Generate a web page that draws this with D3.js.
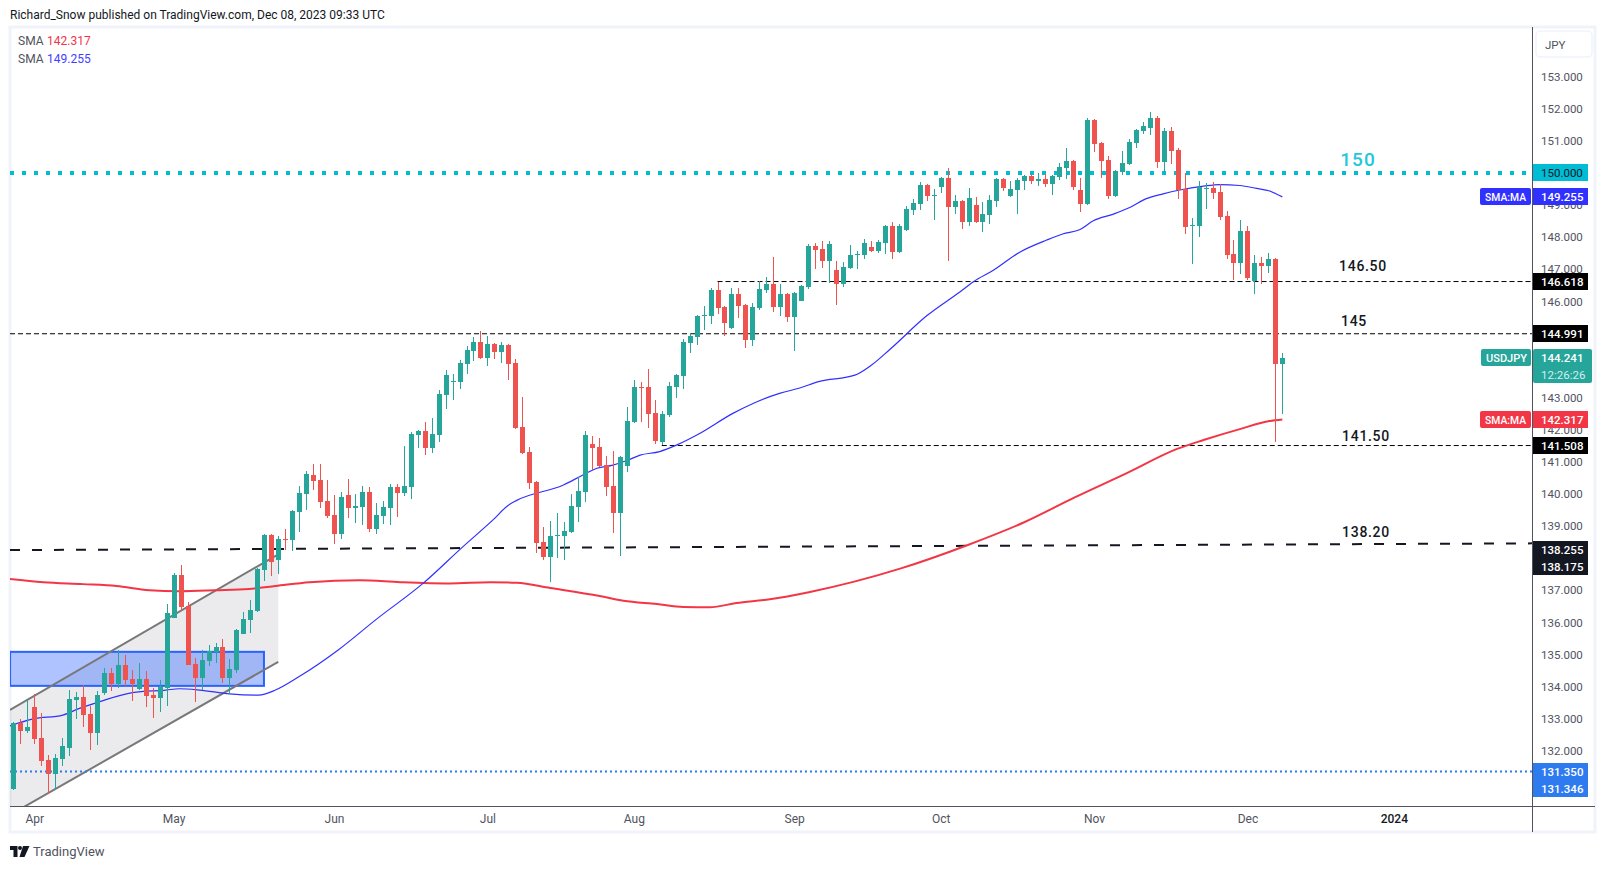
<!DOCTYPE html>
<html>
<head>
<meta charset="utf-8">
<script src="https://cdn.jsdelivr.net/npm/d3@7"></script>
<style>
  body { margin: 0; background: #fff; }
  text { font-family: Roboto, sans-serif; }
</style>
</head>
<body>
<div id="vis"></div>
<script>
const FRAME_WIDTH = 1606;
const FRAME_HEIGHT = 869;
const PANE = {left: 10, right: 1532, top: 27, bottom: 806};

// daily candles
const opens = [130.82,132.87,132.61,133.36,132.39,131.71,131.27,131.74,132.08,133.58,133.67,133.14,132.55,133.80,134.42,134.08,134.67,134.23,133.92,134.23,133.73,133.64,133.95,136.13,137.47,136.51,134.70,134.26,134.79,135.07,135.23,134.26,134.51,135.63,136.07,136.35,137.63,138.72,137.94,138.59,
  138.56,139.43,140.00,140.59,140.43,139.78,139.34,138.75,139.96,139.56,139.59,140.06,138.90,139.31,139.56,140.21,140.03,140.21,141.83,141.96,141.43,141.83,143.08,143.50,143.49,144.05,144.45,144.73,144.23,144.67,144.42,144.64,144.08,142.08,141.30,140.37,138.50,138.04,138.70,138.69,
  138.81,139.59,140.06,141.55,141.46,140.90,140.25,139.41,140.87,142.24,143.33,143.33,142.52,141.62,142.46,143.33,143.68,144.70,144.89,145.55,145.54,146.35,145.82,145.17,146.23,145.89,144.80,145.79,146.35,146.54,145.82,146.23,145.51,146.02,146.45,147.73,147.63,147.26,146.98,146.54,
  147.04,147.46,147.44,147.69,147.57,147.82,148.35,147.54,148.22,148.85,149.03,149.63,149.29,149.56,149.84,148.94,149.13,148.47,149.00,148.47,148.69,149.13,149.81,149.28,149.47,149.75,149.91,149.76,149.81,149.66,149.88,150.16,150.37,149.47,149.03,151.65,150.93,150.40,149.28,150.03,
  150.28,150.93,151.31,151.40,151.71,150.34,151.31,150.71,149.50,148.35,148.35,149.51,149.53,149.41,148.66,147.47,147.19,148.19,146.63,147.19,147.10,147.32,144.05];
const highs = [132.88,132.99,133.58,133.76,133.17,131.86,131.90,132.39,133.89,133.83,134.05,133.39,133.86,134.58,134.58,135.14,134.98,134.51,134.73,134.48,133.95,134.20,136.57,137.54,137.78,136.63,134.89,135.14,135.29,135.35,135.48,134.86,135.78,136.32,136.69,137.68,138.75,138.74,138.69,138.91,
  139.49,140.24,140.71,140.93,140.93,140.43,139.96,140.06,140.46,140.00,140.24,140.21,139.72,139.78,140.31,140.31,141.49,141.93,141.99,142.24,142.36,143.24,143.86,143.73,144.17,144.61,144.89,145.07,144.92,144.70,144.73,144.66,144.20,143.02,141.46,140.39,138.97,139.16,139.41,139.13,
  140.00,140.53,141.96,141.80,141.74,141.18,141.34,141.18,142.71,143.55,143.49,143.89,142.93,142.58,143.49,143.74,144.83,145.02,145.57,145.85,146.42,146.60,145.85,146.42,146.42,145.91,145.95,146.64,146.76,147.38,146.54,146.25,146.29,146.50,147.79,147.82,147.88,147.88,147.26,147.23,
  147.76,147.57,147.94,147.88,147.91,148.37,148.47,148.41,148.97,149.19,149.72,149.65,149.50,149.87,150.16,149.31,149.15,149.53,149.25,149.09,149.31,149.83,149.83,149.75,149.84,149.94,149.97,150.00,149.97,149.94,150.31,150.78,150.40,149.84,151.71,151.68,150.97,150.53,150.08,150.69,
  151.06,151.37,151.59,151.90,151.78,151.40,151.43,150.78,150.00,148.60,149.75,149.69,149.72,149.66,148.82,147.91,148.53,148.35,147.44,147.38,147.51,147.34,144.39];
const lows = [130.77,132.21,132.54,132.21,131.52,130.65,130.77,131.52,131.83,132.99,132.74,132.02,132.18,133.73,133.86,133.95,134.01,133.55,133.89,133.36,133.02,133.20,133.39,136.13,136.35,134.67,133.52,133.89,134.64,134.73,134.11,133.77,134.42,135.63,135.67,136.32,137.29,137.44,137.50,138.25,
  138.22,138.81,139.50,140.12,139.56,139.25,138.44,138.59,139.25,139.09,139.03,138.81,138.75,139.06,139.03,139.28,139.93,139.84,141.43,141.21,141.27,141.62,142.64,142.92,143.27,143.73,144.14,144.20,143.98,144.20,144.08,143.55,142.03,141.25,140.15,138.16,137.94,137.27,138.00,137.94,
  138.78,139.13,139.75,140.75,140.85,139.94,138.78,138.07,140.69,142.21,142.24,142.05,141.55,141.52,142.40,142.99,143.27,144.39,144.64,145.11,145.30,145.61,144.92,145.14,145.48,144.55,144.61,145.73,146.26,145.67,145.54,145.36,144.45,146.00,146.39,147.01,147.04,146.57,145.89,146.45,
  147.01,147.01,147.32,147.55,147.51,147.48,147.32,147.51,148.20,148.69,148.85,149.13,148.53,149.38,147.26,148.72,148.26,148.35,148.44,148.16,148.41,148.94,149.44,149.26,148.72,149.47,149.66,149.59,149.56,149.31,149.78,149.81,149.47,148.78,149.00,150.65,149.84,149.19,149.26,149.94,
  150.26,150.78,151.21,151.18,150.16,150.03,150.28,149.19,148.10,147.16,148.00,148.88,149.19,148.53,147.32,146.67,146.85,146.67,146.23,146.54,146.88,141.62,142.49];
const closes = [132.85,132.61,132.74,132.36,131.68,131.27,131.77,132.15,133.61,133.67,133.11,132.55,133.73,134.42,134.08,134.67,134.20,134.08,134.23,133.70,133.64,133.98,136.29,137.47,136.48,134.67,134.26,134.82,135.11,135.23,134.26,134.54,135.76,136.10,136.38,137.66,138.72,137.88,138.59,138.56,
  139.47,140.03,140.62,140.40,139.75,139.31,138.75,139.90,139.56,139.62,140.06,138.90,139.34,139.59,140.21,140.03,140.24,141.86,141.96,141.43,141.86,143.11,143.70,143.52,144.08,144.48,144.73,144.23,144.67,144.42,144.64,144.05,142.05,141.27,140.34,138.47,138.03,138.69,138.72,138.85,
  139.62,140.09,141.84,141.43,140.87,140.22,139.41,141.15,142.27,143.33,143.31,142.49,141.65,142.49,143.36,143.71,144.73,144.92,145.54,145.57,146.35,145.79,145.33,146.23,145.85,144.80,145.82,146.39,146.54,145.82,146.23,145.51,146.26,146.48,147.73,147.60,147.26,147.79,146.54,147.07,
  147.44,147.48,147.82,147.57,147.85,148.35,147.54,148.35,148.88,149.06,149.63,149.28,149.31,149.84,148.94,149.13,148.47,149.22,148.47,148.72,149.16,149.81,149.53,149.50,149.78,149.91,149.75,149.80,149.66,149.91,150.19,150.37,149.56,149.03,151.65,150.90,150.37,149.28,150.06,150.31,
  150.97,151.34,151.46,151.71,150.34,151.31,150.68,149.47,148.32,148.38,149.56,149.53,149.38,148.63,147.44,147.19,148.19,146.72,147.19,147.10,147.32,144.05,144.24];

// moving averages, sampled along the curve (candle index, price)
const sma50Idx = [-0.5,2.9,7.1,9.5,12.4,17.1,21.9,23.8,26.7,31,35.2,37.6,41,46.6,52.1,58.8,64.5,68.8,71,72.2,78.9,81.7,83.7,86,88,89.9,92.7,95.1,98.5,103.2,106.1,110,112.8,115.5,120.7,123,125.7,131,135.8,137.7,140.5,144.4,148.2,150.5,153,154.9,157.8,160.2,162.5,164.9,167.3,170.7,173,175.9,178.3,180.2,182];
const sma50 = [132.77,132.99,133.11,133.32,133.53,133.81,133.89,133.93,133.89,133.77,133.73,133.89,134.31,135.14,136.10,137.22,138.36,139.19,139.65,139.80,140.28,140.59,140.80,140.90,141.04,141.21,141.32,141.52,141.89,142.51,142.82,143.14,143.30,143.50,143.70,144.00,144.50,145.55,146.30,146.61,146.96,147.54,147.91,148.10,148.24,148.51,148.72,148.93,149.20,149.35,149.47,149.59,149.64,149.61,149.52,149.44,149.255];
const sma200Idx = [-0.5,4.3,10,14.8,19.5,23.8,29,33.8,37.6,42.5,49.7,55.5,62.6,68.4,72.2,77,84.1,87.5,92.3,96.1,99.9,103.7,108.5,114.1,127.3,136.9,144.9,152.3,159.7,167,170.7,175.9,180.2,182];
const sma200 = [137.35,137.25,137.19,137.13,137.00,136.97,137.00,137.04,137.13,137.25,137.31,137.25,137.21,137.25,137.23,137.07,136.82,136.67,136.57,136.48,136.47,136.60,136.72,136.94,137.68,138.41,139.11,139.90,140.65,141.41,141.68,142.02,142.27,142.317];

// 150, 145, 144 and 138 sit fully behind price tags in the picture
const priceTicks = [132,133,134,135,136,137,139,140,141,142,143,146,147,148,149,151,152,153];
const monthIdx = [3, 23, 46, 68, 89, 112, 133, 155, 177, 198];
const monthNames = ["Apr", "May", "Jun", "Jul", "Aug", "Sep", "Oct", "Nov", "Dec", "2024"];

// drawings
const channelIdx = [-0.47, 38];
const channelUpper = [133.27, 138.12];
const channelLower = [130.0, 134.77];
const zoneIdx = [-0.47, 35.95];
const zonePrices = [135.08, 134.02];
const level146Start = 101;
const level141Start = 93;
const trendPrices = [138.25, 138.46];

const GREEN = "#26a69a", RED = "#ef5350", TEXT = "#50535e", DARK = "#131722";

const X_SCALE = d3.scaleLinear().domain([0, 182]).range([13.3, 1282.3]);
const Y_SCALE = d3.scaleLinear().domain([153, 132]).range([76.7, 750.7]);
const xMin = X_SCALE.invert(PANE.left), xMax = X_SCALE.invert(PANE.right);

const FRAME = d3.select("#vis").append("svg")
    .attr("width", FRAME_WIDTH)
    .attr("height", FRAME_HEIGHT)
    .style("display", "block");

// chart panel border
FRAME.append("rect")
    .attr("x", 10).attr("y", 27)
    .attr("width", 1585).attr("height", 805)
    .attr("fill", "#fff").attr("stroke", "#f0f3fa").attr("stroke-width", 3);

FRAME.append("text").attr("x", 10).attr("y", 19)
    .attr("font-size", 12).attr("fill", DARK)
    .text("Richard_Snow published on TradingView.com, Dec 08, 2023 09:33 UTC");

FRAME.append("clipPath").attr("id", "pane").append("rect")
    .attr("x", PANE.left).attr("y", PANE.top)
    .attr("width", PANE.right - PANE.left).attr("height", PANE.bottom - PANE.top);

const plot = FRAME.append("g").attr("clip-path", "url(#pane)");

// channel + zone, under the candles
plot.append("polygon")
    .attr("points", [[channelIdx[0], channelUpper[0]], [channelIdx[1], channelUpper[1]],
                     [channelIdx[1], channelLower[1]], [channelIdx[0], channelLower[0]]]
      .map(d => X_SCALE(d[0]) + "," + Y_SCALE(d[1])).join(" "))
    .attr("fill", "#787b86").attr("fill-opacity", 0.15);

plot.append("rect")
    .attr("x", X_SCALE(zoneIdx[0]))
    .attr("y", Y_SCALE(zonePrices[0]))
    .attr("width", X_SCALE(zoneIdx[1]) - X_SCALE(zoneIdx[0]))
    .attr("height", Y_SCALE(zonePrices[1]) - Y_SCALE(zonePrices[0]))
    .attr("fill", "#2962ff").attr("fill-opacity", 0.38)
    .attr("stroke", "#2962ff").attr("stroke-width", 2);

[channelUpper, channelLower].forEach(p => {
  plot.append("line")
      .attr("x1", X_SCALE(channelIdx[0])).attr("y1", Y_SCALE(p[0]))
      .attr("x2", X_SCALE(channelIdx[1])).attr("y2", Y_SCALE(p[1]))
      .attr("stroke", "#787878").attr("stroke-width", 2);
});

// horizontal levels
function level(price, startIdx, color, width, dash) {
  plot.append("line")
      .attr("x1", X_SCALE(startIdx)).attr("x2", X_SCALE(xMax))
      .attr("y1", Y_SCALE(price)).attr("y2", Y_SCALE(price))
      .attr("stroke", color).attr("stroke-width", width)
      .attr("stroke-dasharray", dash);
}
level(150, xMin, "#00bcd4", 4, "4 8");
level(146.618, level146Start, "#000", 1, "5 3");
level(144.991, xMin, "#000", 1, "5 3");
level(141.508, level141Start, "#000", 1, "5 3");
level(131.35, xMin, "#2e7bf0", 2, "2 3");

plot.append("line")
    .attr("x1", X_SCALE(xMin)).attr("x2", X_SCALE(xMax))
    .attr("y1", Y_SCALE(trendPrices[0])).attr("y2", Y_SCALE(trendPrices[1]))
    .attr("stroke", DARK).attr("stroke-width", 2)
    .attr("stroke-dasharray", "10 12");

// moving averages
const lineGen = d3.line().x(d => X_SCALE(d[0])).y(d => Y_SCALE(d[1])).curve(d3.curveMonotoneX);
plot.append("path").datum(d3.zip(sma200Idx, sma200))
    .attr("d", lineGen).attr("fill", "none")
    .attr("stroke", "#f23645").attr("stroke-width", 2);
plot.append("path").datum(d3.zip(sma50Idx, sma50))
    .attr("d", lineGen).attr("fill", "none")
    .attr("stroke", "#3030ff").attr("stroke-width", 1.2);

// candles
const candles = opens.map((o, i) => ({i: i, o: o, h: highs[i], l: lows[i], c: closes[i]}));
const candleG = plot.append("g").attr("shape-rendering", "crispEdges");
candleG.selectAll("rect.wick").data(candles).enter().append("rect")
    .attr("class", "wick")
    .attr("x", d => Math.round(X_SCALE(d.i)))
    .attr("y", d => Y_SCALE(d.h))
    .attr("width", 1)
    .attr("height", d => Y_SCALE(d.l) - Y_SCALE(d.h))
    .attr("fill", d => d.c >= d.o ? GREEN : RED);
candleG.selectAll("rect.body").data(candles).enter().append("rect")
    .attr("class", "body")
    .attr("x", d => Math.round(X_SCALE(d.i)) - 2)
    .attr("y", d => Y_SCALE(Math.max(d.o, d.c)))
    .attr("width", 5)
    .attr("height", d => Math.max(1, Math.abs(Y_SCALE(d.o) - Y_SCALE(d.c))))
    .attr("fill", d => d.c >= d.o ? GREEN : RED);

// level captions
const captions = [["146.50", 1363, 271], ["145", 1354, 326], ["141.50", 1366, 441], ["138.20", 1366, 537]];
captions.forEach(c => {
  FRAME.append("text").attr("x", c[1]).attr("y", c[2])
      .attr("text-anchor", "middle").attr("font-size", 14).attr("font-weight", 500)
      .attr("letter-spacing", 0.7).attr("fill", DARK).text(c[0]);
});
FRAME.append("text").attr("x", 1358).attr("y", 166)
    .attr("text-anchor", "middle").attr("font-size", 19).attr("font-weight", 500)
    .attr("letter-spacing", 1).attr("fill", "#26c6da").text("150");

// axes
const yAxis = FRAME.append("g")
    .attr("transform", "translate(" + PANE.right + ",0)")
    .call(d3.axisRight(Y_SCALE).tickValues(priceTicks).tickSize(0).tickPadding(9).tickFormat(d3.format(".3f")));
yAxis.select(".domain").remove();
yAxis.selectAll("text").attr("font-size", 11.5).attr("font-family", "Roboto").attr("fill", TEXT);

const xAxis = FRAME.append("g")
    .attr("transform", "translate(0," + PANE.bottom + ")")
    .call(d3.axisBottom(X_SCALE).tickValues(monthIdx).tickSize(0).tickPadding(8)
      .tickFormat((d, i) => monthNames[i]));
xAxis.select(".domain").remove();
xAxis.selectAll("text").attr("font-size", 12).attr("font-family", "Roboto").attr("fill", TEXT);
xAxis.selectAll("text").filter(d => d === 198).attr("font-weight", 500).attr("fill", DARK);

FRAME.append("line").attr("x1", PANE.left).attr("x2", 1595)
    .attr("y1", PANE.bottom + 0.5).attr("y2", PANE.bottom + 0.5).attr("stroke", TEXT);
FRAME.append("line").attr("x1", PANE.right + 0.5).attr("x2", PANE.right + 0.5)
    .attr("y1", 27).attr("y2", 832).attr("stroke", TEXT);

// currency box
FRAME.append("rect").attr("x", 1536).attr("y", 31).attr("width", 56).attr("height", 26).attr("rx", 4)
    .attr("fill", "#fff").attr("stroke", "#f0f3fa").attr("stroke-width", 1.5);
FRAME.append("text").attr("x", 1545).attr("y", 49).attr("font-size", 11.5).attr("fill", TEXT).text("JPY");

// price tags on the axis
function tag(price, rowOffset, txt, fill, color, weight) {
  const top = Math.round(Y_SCALE(price) - 8.5) + rowOffset;
  FRAME.append("rect").attr("x", PANE.right + 1).attr("y", top).attr("width", 55).attr("height", 17).attr("fill", fill);
  FRAME.append("text").attr("x", 1541).attr("y", top + 13).attr("font-size", 11.5)
      .attr("font-weight", weight).attr("fill", color).text(txt);
}
function nameTag(price, txt, fill, x0) {
  const top = Math.round(Y_SCALE(price) - 8.5);
  FRAME.append("rect").attr("x", x0).attr("y", top).attr("width", 1531 - x0).attr("height", 17).attr("rx", 2).attr("fill", fill);
  FRAME.append("text").attr("x", x0 + 5).attr("y", top + 13).attr("font-size", 11.5)
      .attr("textLength", 41).attr("lengthAdjust", "spacingAndGlyphs")
      .attr("font-weight", 500).attr("fill", "#fff").text(txt);
}
tag(150, 0, "150.000", "#00bcd4", DARK, 400);
tag(149.255, 0, "149.255", "#3030ff", "#fff", 500);
nameTag(149.255, "SMA:MA", "#3030ff", 1480);
tag(146.618, 0, "146.618", "#000", "#fff", 500);
tag(144.991, 0, "144.991", "#000", "#fff", 500);
tag(142.317, 0, "142.317", "#f23645", "#fff", 500);
nameTag(142.317, "SMA:MA", "#f23645", 1480);
tag(141.508, 0, "141.508", "#000", "#fff", 500);
tag(138.255, 0, "138.255", DARK, "#fff", 500);
tag(138.255, 17, "138.175", DARK, "#fff", 500);
tag(131.35, 0, "131.350", "#2e7bf0", "#fff", 500);
tag(131.35, 17, "131.346", "#2e7bf0", "#fff", 500);

// last price tag is wider and holds the countdown
const lastTop = Math.round(Y_SCALE(closes[182]) - 8.5);
FRAME.append("rect").attr("x", PANE.right + 1).attr("y", lastTop).attr("width", 59).attr("height", 34).attr("rx", 2).attr("fill", GREEN);
FRAME.append("text").attr("x", 1541).attr("y", lastTop + 13).attr("font-size", 11.5).attr("font-weight", 500).attr("fill", "#fff").text("144.241");
FRAME.append("text").attr("x", 1541).attr("y", lastTop + 30).attr("font-size", 11.5).attr("fill", "#d4eeeb").text("12:26:26");
nameTag(closes[182], "USDJPY", GREEN, 1481);

// legend
[[41, "142.317", "#f23645"], [59, "149.255", "#3f3fff"]].forEach(r => {
  FRAME.append("text").attr("x", 18).attr("y", r[0] + 4).attr("font-size", 12).attr("fill", TEXT).text("SMA");
  FRAME.append("text").attr("x", 47).attr("y", r[0] + 4).attr("font-size", 12).attr("fill", r[2]).text(r[1]);
});

// footer logo
const logo = FRAME.append("g").attr("fill", DARK);
logo.append("polygon").attr("points", "10,846 17.5,846 17.5,857 13.5,857 13.5,850 10,850");
logo.append("circle").attr("cx", 20).attr("cy", 848).attr("r", 2);
logo.append("polygon").attr("points", "23,846 29.5,846 24.5,857 19.5,857");
FRAME.append("text").attr("x", 33).attr("y", 856).attr("font-size", 13).attr("fill", TEXT).text("TradingView");
</script>
</body>
</html>
